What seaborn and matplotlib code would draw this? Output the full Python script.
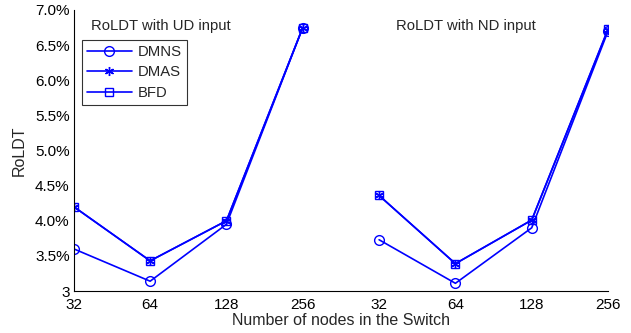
import numpy as np
import pandas as pd
import matplotlib
matplotlib.use("Agg")
import matplotlib.pyplot as plt
import seaborn as sns
from matplotlib.ticker import FuncFormatter

nodes = ["32", "64", "128", "256"]
tick_labels = nodes + nodes
ud_dmns = [3.60, 3.14, 3.95, 6.75]
ud_dmas = [4.20, 3.43, 4.00, 6.75]
ud_bfd = [4.20, 3.43, 4.00, 6.75]
nd_dmns = [3.73, 3.11, 3.90, 6.70]
nd_dmas = [4.36, 3.39, 4.01, 6.72]
nd_bfd = [4.36, 3.39, 4.01, 6.73]
titles = ["RoLDT with UD input", "RoLDT with ND input"]

sns.set_style("white")
plt.rcParams['font.family'] = ['Liberation Sans', 'DejaVu Sans']
plt.rcParams['font.size'] = 10.5

fig = plt.figure(figsize=(6.31, 3.33), dpi=100)
ax = fig.add_axes([0.117, 0.126, 0.9636 - 0.117, 0.97 - 0.126])

blue = (0, 0, 1)
asterisk = (6, 2, 0)
series = [
    ("DMNS", ud_dmns, nd_dmns, "o", 7),
    ("DMAS", ud_dmas, nd_dmas, asterisk, 6.5),
    ("BFD", ud_bfd, nd_bfd, "s", 6),
]
for name, ud, nd, mk, ms in series:
    for g, vals in enumerate([ud, nd]):
        df = pd.DataFrame({"x": np.arange(4) + 4 * g, "y": vals})
        sns.lineplot(data=df, x="x", y="y", ax=ax, color=blue, lw=1.2,
                     marker=mk, markersize=ms, markerfacecolor="none",
                     markeredgecolor=blue, markeredgewidth=1.0,
                     label=name if g == 0 else None, legend=False)

ax.set_xlim(0, 7)
ax.set_ylim(3, 7)
ax.set_xticks(np.arange(8))
ax.set_xticklabels(tick_labels)
ax.set_yticks(np.arange(3, 7.01, 0.5))
ax.yaxis.set_major_formatter(FuncFormatter(lambda v, p: "3" if abs(v - 3) < 1e-9 else f"{v:.1f}%"))
ax.tick_params(direction="in", length=4, width=0.8, colors="black", labelsize=11, pad=3)
ax.tick_params(axis="x", pad=5)
for s in ["top", "right"]:
    ax.spines[s].set_visible(False)
for s in ["left", "bottom"]:
    ax.spines[s].set_color("black")
    ax.spines[s].set_linewidth(0.8)
ax.set_xlabel("Number of nodes in the Switch", fontsize=11.5, labelpad=1)
ax.set_ylabel("RoLDT", fontsize=11.5, labelpad=6)

ax.text(0.22, 6.77, titles[0], fontsize=10.7, va="center", ha="left")
ax.text(4.22, 6.77, titles[1], fontsize=10.7, va="center", ha="left")

leg = ax.legend(loc="upper left", bbox_to_anchor=(0.015, 0.895), frameon=True,
                fancybox=False, edgecolor="black", fontsize=10.7, handlelength=3,
                borderpad=0.35, labelspacing=0.45, handletextpad=0.4, borderaxespad=0)
leg.get_frame().set_linewidth(0.8)

fig.savefig("out.png", dpi=100)
